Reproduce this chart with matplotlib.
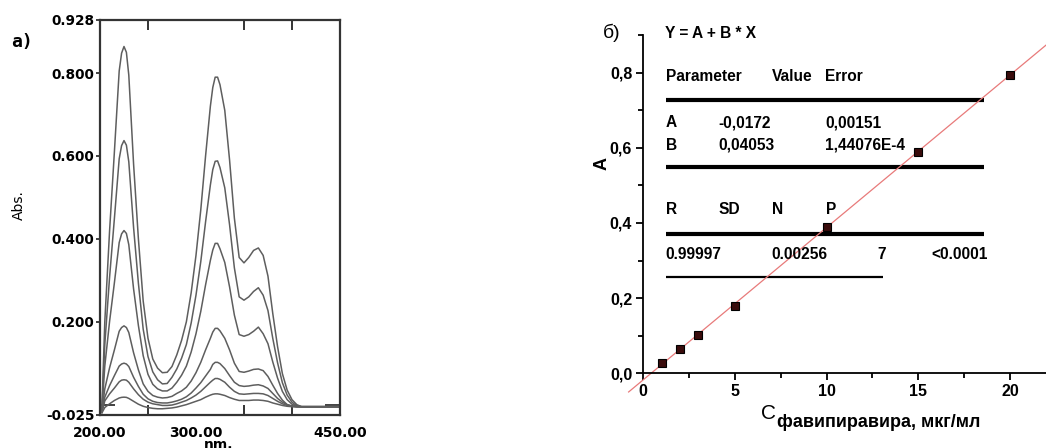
import matplotlib.pyplot as plt
from matplotlib.ticker import FixedLocator

# spectra (left panel)
wavelength = [202, 205, 210, 215, 220, 222.5, 225, 227.5, 230, 235, 240, 245, 250, 255, 260, 265, 270,
              275, 280, 285, 290, 295, 300, 305, 310, 315, 317.5, 320, 322.5, 325, 330, 335, 340, 345,
              350, 355, 360, 365, 370, 375, 380, 385, 390, 395, 400, 405, 410, 420, 450]

abs_20 = [-0.010, 0.200, 0.420, 0.610, 0.805, 0.848, 0.864, 0.850, 0.795, 0.580, 0.400, 0.250, 0.160, 0.110, 0.088, 0.077, 0.078,
          0.092, 0.120, 0.155, 0.200, 0.270, 0.360, 0.470, 0.600, 0.720, 0.765, 0.790, 0.790, 0.772, 0.710, 0.590, 0.450, 0.355,
          0.342, 0.355, 0.372, 0.378, 0.360, 0.310, 0.220, 0.140, 0.075, 0.035, 0.012, 0.000, -0.005, -0.005, -0.005]
abs_15 = [-0.012, 0.145, 0.308, 0.449, 0.593, 0.625, 0.637, 0.626, 0.586, 0.427, 0.293, 0.182, 0.116, 0.079, 0.060, 0.050, 0.051,
          0.066, 0.086, 0.112, 0.145, 0.197, 0.264, 0.345, 0.441, 0.530, 0.567, 0.587, 0.588, 0.572, 0.523, 0.434, 0.330, 0.260,
          0.252, 0.260, 0.273, 0.282, 0.264, 0.227, 0.160, 0.101, 0.053, 0.023, 0.006, -0.003, -0.005, -0.005, -0.005]
abs_10 = [-0.014, 0.093, 0.201, 0.294, 0.391, 0.412, 0.420, 0.413, 0.386, 0.279, 0.191, 0.118, 0.073, 0.049, 0.038, 0.033, 0.033,
          0.040, 0.054, 0.071, 0.093, 0.127, 0.171, 0.225, 0.289, 0.348, 0.373, 0.389, 0.389, 0.376, 0.343, 0.284, 0.216, 0.169,
          0.165, 0.169, 0.177, 0.187, 0.171, 0.147, 0.103, 0.064, 0.032, 0.012, 0.001, -0.004, -0.005, -0.005, -0.005]
abs_5 = [-0.016, 0.038, 0.089, 0.132, 0.177, 0.186, 0.190, 0.186, 0.174, 0.125, 0.084, 0.050, 0.032, 0.022, 0.018, 0.016, 0.017,
         0.020, 0.027, 0.033, 0.042, 0.057, 0.077, 0.102, 0.132, 0.160, 0.175, 0.184, 0.184, 0.178, 0.160, 0.132, 0.100, 0.080,
         0.078, 0.081, 0.085, 0.086, 0.082, 0.068, 0.047, 0.027, 0.011, 0.000, -0.004, -0.005, -0.005, -0.005, -0.005]
abs_3 = [-0.018, 0.018, 0.046, 0.070, 0.093, 0.098, 0.100, 0.098, 0.092, 0.066, 0.044, 0.025, 0.014, 0.008, 0.005, 0.004, 0.004,
         0.006, 0.009, 0.013, 0.019, 0.028, 0.040, 0.053, 0.069, 0.085, 0.097, 0.102, 0.102, 0.099, 0.087, 0.070, 0.054, 0.046,
         0.044, 0.045, 0.047, 0.048, 0.045, 0.039, 0.027, 0.015, 0.006, 0.000, -0.003, -0.005, -0.005, -0.005, -0.005]
abs_2 = [-0.019, 0.009, 0.026, 0.040, 0.055, 0.059, 0.060, 0.059, 0.054, 0.038, 0.024, 0.013, 0.006, 0.002, 0.000, -0.002, -0.002,
         -0.001, 0.002, 0.006, 0.010, 0.016, 0.023, 0.032, 0.043, 0.054, 0.059, 0.063, 0.063, 0.061, 0.054, 0.042, 0.032, 0.026,
         0.025, 0.026, 0.027, 0.027, 0.026, 0.022, 0.015, 0.008, 0.002, -0.002, -0.004, -0.005, -0.005, -0.005, -0.005]
abs_1 = [-0.020, -0.007, 0.002, 0.010, 0.016, 0.0175, 0.018, 0.0175, 0.015, 0.008, 0.001, -0.004, -0.007, -0.009, -0.010, -0.010, -0.009,
         -0.008, -0.006, -0.003, 0.000, 0.004, 0.008, 0.012, 0.018, 0.023, 0.025, 0.026, 0.026, 0.025, 0.022, 0.017, 0.013, 0.010,
         0.010, 0.010, 0.011, 0.011, 0.010, 0.008, 0.004, 0.001, -0.002, -0.004, -0.005, -0.005, -0.005, -0.005, -0.005]
spectra = [abs_20, abs_15, abs_10, abs_5, abs_3, abs_2, abs_1]

# calibration (right panel)
conc = [1, 2, 3, 5, 10, 15, 20]
absorb = [0.027, 0.064, 0.102, 0.180, 0.390, 0.588, 0.794]
fit_a = -0.0172
fit_b = 0.04053
fit_x = [-0.8, 22.5]

fig = plt.figure(figsize=(10.46, 4.48), dpi=100)

# ---- a) spectra
ax1 = fig.add_axes([0.0956, 0.0737, 0.2294, 0.8817])
for s in spectra:
    ax1.plot(wavelength, s, color='#5e5e5e', lw=1.1)
ax1.set_xlim(200, 450)
ax1.set_ylim(-0.025, 0.928)
for sp in ax1.spines.values():
    sp.set_color('#333333')
    sp.set_linewidth(1.6)

ax1.set_xticks([200, 300, 450])
ax1.set_xticklabels(['200.00', '300.00', '450.00'])
ax1.xaxis.set_minor_locator(FixedLocator([250, 300, 350, 400]))
ax1.tick_params(axis='x', which='major', length=0, pad=8, labelsize=10)
ax1.tick_params(axis='x', which='minor', bottom=True, top=True, direction='in',
                length=7, width=1.4, color='#333333')
ax1.set_yticks([-0.025, 0.2, 0.4, 0.6, 0.8, 0.928])
ax1.set_yticklabels(['-0.025', '0.200', '0.400', '0.600', '0.800', '0.928'])
ax1.yaxis.set_minor_locator(FixedLocator([0.0, 0.2, 0.4, 0.6, 0.8]))
ax1.tick_params(axis='y', which='major', length=3, width=1.3, pad=1, labelsize=9.8,
                color='#333333')
ax1.tick_params(axis='y', which='minor', left=True, right=True, direction='in',
                length=11, width=1.3, color='#333333')
for lb in ax1.get_xticklabels() + ax1.get_yticklabels():
    lb.set_fontweight('bold')

fig.text(0.018, 0.542, 'Abs.', rotation=90, fontsize=10, ha='center', va='center')
fig.text(0.021, 0.906, 'a)', fontsize=13, fontweight='bold', family='DejaVu Sans Mono',
         ha='center', va='center')
fig.text(0.2086, 0.022, 'nm.', fontsize=10, fontweight='bold', ha='center', va='top')

# ---- б) calibration
ax2 = fig.add_axes([0.615, 0.1667, 0.385, 0.755])
ax2.plot(fit_x, [fit_a + fit_b * x for x in fit_x], color='#e87a7a', lw=0.9,
         clip_on=False, zorder=2)
ax2.plot(conc, absorb, 's', ms=6, mfc='#3a0c0c', mec='black', mew=0.8, zorder=3)
ax2.set_xlim(0, 21.97)
ax2.set_ylim(0, 0.9)
ax2.spines['top'].set_visible(False)
ax2.spines['right'].set_visible(False)
for sp in ['left', 'bottom']:
    ax2.spines[sp].set_linewidth(1.3)

ax2.set_xticks([0, 5, 10, 15, 20])
ax2.set_xticklabels(['0', '5', '10', '15', '20'])
ax2.xaxis.set_minor_locator(FixedLocator([2.5, 7.5, 12.5, 17.5]))
ax2.set_yticks([0.0, 0.2, 0.4, 0.6, 0.8])
ax2.set_yticklabels(['0,0', '0,2', '0,4', '0,6', '0,8'])
ax2.yaxis.set_minor_locator(FixedLocator([0.1, 0.3, 0.5, 0.7, 0.9]))
ax2.tick_params(which='major', length=5, width=1.3, labelsize=11.5, pad=3)
ax2.tick_params(which='minor', length=3.5, width=1.3)
for lb in ax2.get_xticklabels() + ax2.get_yticklabels():
    lb.set_fontweight('bold')
    lb.set_family('Liberation Sans')

tfont = dict(family='Liberation Sans', fontsize=11.2, fontweight='bold', va='center')
ax2.text(1.18, 0.905, 'Y = A + B * X', **tfont)
header = ['Parameter', 'Value', 'Error']
header_x = [1.22, 7.0, 9.91]
for x, s in zip(header_x, header):
    ax2.text(x, 0.789, s, **tfont)
param_rows = [['A', '-0,0172', '0,00151'], ['B', '0,04053', '1,44076E-4']]
param_y = [0.667, 0.607]
param_x = [1.22, 4.09, 9.91]
for y, row in zip(param_y, param_rows):
    for x, s in zip(param_x, row):
        ax2.text(x, y, s, **tfont)
stat_head = ['R', 'SD', 'N', 'P']
stat_head_x = [1.22, 4.09, 7.04, 9.95]
for x, s in zip(stat_head_x, stat_head):
    ax2.text(x, 0.436, s, **tfont)
stat_vals = ['0.99997', '0.00256', '7', '<0.0001']
stat_vals_x = [1.22, 7.0, 12.79, 15.73]
for x, s in zip(stat_vals_x, stat_vals):
    ax2.text(x, 0.315, s, **tfont)

for y in [0.727, 0.550, 0.372]:
    ax2.plot([1.22, 18.57], [y, y], color='black', lw=3, solid_capstyle='butt', zorder=1)
ax2.plot([1.22, 13.09], [0.255, 0.255], color='black', lw=1.6, solid_capstyle='butt', zorder=1)

fig.text(0.5765, 0.926, 'б)', fontsize=14, family='Liberation Sans', ha='left', va='center')
fig.text(0.5755, 0.636, 'A', rotation=90, fontsize=13, fontweight='bold',
         family='Liberation Sans', ha='center', va='center')
fig.text(0.728, 0.078, 'C', fontsize=15, family='Liberation Sans', ha='left', va='center')
fig.text(0.743, 0.056, 'фавипиравира, мкг/мл', fontsize=13, fontweight='bold',
         family='Liberation Sans', ha='left', va='center')

fig.savefig('out.png', dpi=100)
